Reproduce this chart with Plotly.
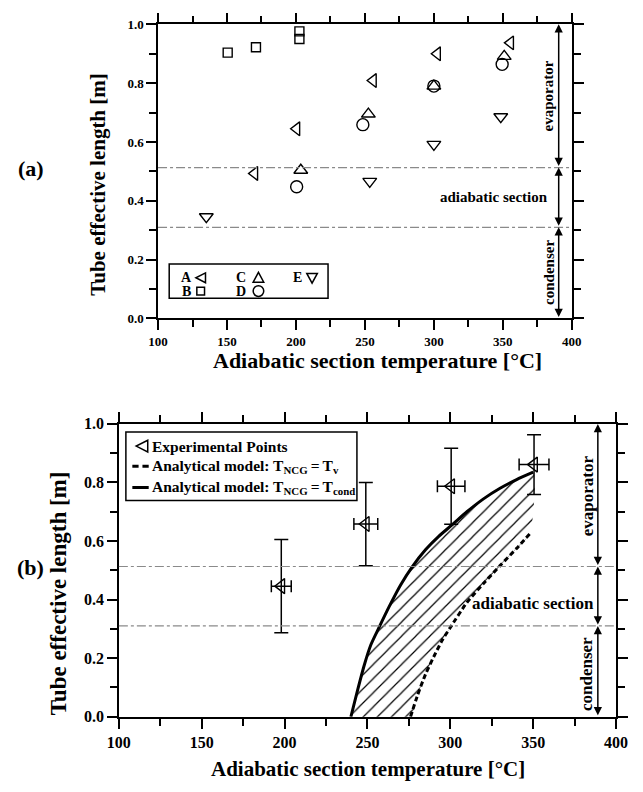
import plotly.graph_objects as go

W, H = 643, 792

# ---------------- data: panel (a) ----------------
A_x = [170, 200.5, 256, 302.5, 355.5]
A_y = [0.493, 0.645, 0.809, 0.900, 0.937]
B_x = [150.5, 171, 202.5, 202.5]
B_y = [0.904, 0.922, 0.976, 0.950]
C_x = [203.5, 252.5, 300, 351]
C_y = [0.504, 0.695, 0.790, 0.891]
D_x = [200.5, 248.5, 300, 349.5]
D_y = [0.448, 0.659, 0.790, 0.864]
E_x = [135, 253.5, 300, 348.5]
E_y = [0.346, 0.466, 0.592, 0.686]

# ---------------- data: panel (b) ----------------
exp_x = [198, 249, 300.5, 350.5]
exp_y = [0.446, 0.658, 0.787, 0.861]
exp_xerr = [6, 7.2, 8.3, 9]
exp_yerr = [0.159, 0.142, 0.130, 0.102]

cond_x = [240, 244, 248, 252, 257, 263, 270, 277, 285, 293, 301, 310, 320, 330, 340, 350]
cond_y = [0.0, 0.09, 0.175, 0.245, 0.305, 0.375, 0.45, 0.512, 0.57, 0.616, 0.655, 0.70, 0.744, 0.78, 0.81, 0.835]
tv_x = [276, 280, 285, 290, 295, 300, 310, 320, 330, 340, 348]
tv_y = [0.0, 0.07, 0.145, 0.205, 0.26, 0.305, 0.39, 0.455, 0.516, 0.575, 0.625]

section_bounds = [0.513, 0.31]
x_ticks = [100, 150, 200, 250, 300, 350, 400]
y_ticks = [0.0, 0.2, 0.4, 0.6, 0.8, 1.0]

legend_a = ["A", "B", "C", "D", "E"]
legend_b = ["Experimental Points",
            "Analytical model: T<sub>NCG</sub>\u2009=\u2009T<sub>v</sub>",
            "Analytical model: T<sub>NCG</sub>\u2009=\u2009T<sub>cond</sub>"]

FONT = "Liberation Serif"
BLACK = "black"


def px(x):
    return x / W


def py(y):
    return 1 - y / H


fig = go.Figure()


def mk(symbol, size=11):
    return dict(symbol=symbol, size=size, color=BLACK, line=dict(color=BLACK, width=1.4))


for xs, ys, sym, sz in [(A_x, A_y, "triangle-left-open", 12), (B_x, B_y, "square-open", 9),
                        (C_x, C_y, "triangle-up-open", 12), (D_x, D_y, "circle-open", 12),
                        (E_x, E_y, "triangle-down-open", 12)]:
    fig.add_trace(go.Scatter(x=xs, y=ys, mode="markers", marker=mk(sym, sz),
                             showlegend=False, xaxis="x", yaxis="y"))

# hatched region between the two model curves
fig.add_trace(go.Scatter(
    x=cond_x + tv_x[::-1] + [cond_x[0]],
    y=cond_y + tv_y[::-1] + [cond_y[0]],
    mode="lines", line=dict(width=0, color=BLACK, shape="spline", smoothing=0.6), fill="toself",
    fillcolor="rgba(255,255,255,0)",
    fillpattern=dict(shape="/", size=10, solidity=0.12, fgcolor=BLACK, fgopacity=1,
                     bgcolor="rgba(255,255,255,0)"),
    showlegend=False, hoverinfo="skip", xaxis="x2", yaxis="y2"))

fig.add_trace(go.Scatter(
    x=exp_x, y=exp_y, mode="markers", name=legend_b[0],
    marker=mk("triangle-left-open", 13),
    error_y=dict(type="data", array=exp_yerr, color=BLACK, thickness=1.5, width=7),
    error_x=dict(type="data", array=exp_xerr, color=BLACK, thickness=1.5, width=6),
    showlegend=False, xaxis="x2", yaxis="y2"))
fig.add_trace(go.Scatter(
    x=tv_x, y=tv_y, mode="lines", name=legend_b[1],
    line=dict(color=BLACK, width=3, dash="5px,3px", shape="spline", smoothing=0.6),
    showlegend=False, xaxis="x2", yaxis="y2"))
fig.add_trace(go.Scatter(
    x=cond_x, y=cond_y, mode="lines", name=legend_b[2],
    line=dict(color=BLACK, width=3, shape="spline", smoothing=0.6),
    showlegend=False, xaxis="x2", yaxis="y2"))


def tf(size):
    return dict(family=FONT, size=size, color=BLACK, weight="bold")


def xax(domain, anchor, fs):
    return dict(domain=domain, anchor=anchor, range=[100, 400], tickvals=x_ticks,
                ticks="outside", ticklen=10, tickwidth=1.5, tickcolor=BLACK,
                minor=dict(dtick=25, tick0=100, ticks="outside", ticklen=7, tickwidth=1.5, tickcolor=BLACK),
                showline=True, linewidth=1.5, linecolor=BLACK, mirror="allticks",
                showgrid=False, zeroline=False, tickfont=tf(fs))


def yax(domain, anchor, fs):
    return dict(domain=domain, anchor=anchor, range=[0, 1], tickvals=y_ticks, tickformat=".1f",
                ticks="outside", ticklen=10, tickwidth=1.5, tickcolor=BLACK,
                minor=dict(dtick=0.1, tick0=0, ticks="outside", ticklen=7, tickwidth=1.5, tickcolor=BLACK),
                showline=True, linewidth=1.5, linecolor=BLACK, mirror="allticks",
                showgrid=False, zeroline=False, tickfont=tf(fs))


shapes = []
for xr, yr in [("x", "y"), ("x2", "y2")]:
    for b in section_bounds:
        shapes.append(dict(type="line", xref=xr + " domain", yref=yr, x0=0, x1=1, y0=b, y1=b,
                           line=dict(color="#8a8a8a", width=1.2, dash="dashdot"), layer="above"))

LW = dict(color=BLACK, width=1.5)


def pth(points):
    s = "M " + " L ".join(f"{px(a):.5f} {py(b):.5f}" for a, b in points) + " Z"
    return dict(type="path", xref="paper", yref="paper", path=s, line=LW)


# legend box for panel (a) with its symbols
shapes.append(dict(type="rect", xref="paper", yref="paper", x0=px(163.3), x1=px(328.3),
                   y0=py(296.7), y1=py(261.7), line=LW))
r = 5
cx, cy = 196, 275.7
shapes.append(pth([(cx + r, cy - r), (cx + r, cy + r), (cx - r, cy)]))          # A
cx, cy = 196, 289.3
shapes.append(dict(type="rect", xref="paper", yref="paper", x0=px(cx - 4), x1=px(cx + 4),
                   y0=py(cy + 4), y1=py(cy - 4), line=LW))                         # B
cx, cy = 256, 275.7
shapes.append(pth([(cx - 5.5, cy + 4.5), (cx + 5.5, cy + 4.5), (cx, cy - 5.5)]))  # C
cx, cy = 256, 289.3
shapes.append(dict(type="circle", xref="paper", yref="paper", x0=px(cx - 5.5), x1=px(cx + 5.5),
                   y0=py(cy + 5.5), y1=py(cy - 5.5), line=LW))                     # D
cx, cy = 311.7, 275.7
shapes.append(pth([(cx - 5.5, cy - 4.5), (cx + 5.5, cy - 4.5), (cx, cy + 5.5)]))  # E

# legend box for panel (b) with its samples
shapes.append(dict(type="rect", xref="paper", yref="paper", x0=px(118.3), x1=px(358.3),
                   y0=py(503.3), y1=py(433.3), line=LW))
cx, cy = 135, 447.7
shapes.append(pth([(cx + 6, cy - 6), (cx + 6, cy + 6), (cx - 6, cy)]))
for x0, x1 in [(125, 131.5), (135.5, 142)]:
    shapes.append(dict(type="line", xref="paper", yref="paper", x0=px(x0), x1=px(x1),
                       y0=py(468.3), y1=py(468.3), line=dict(color=BLACK, width=3)))
shapes.append(dict(type="line", xref="paper", yref="paper", x0=px(125), x1=px(142),
                   y0=py(490), y1=py(490), line=dict(color=BLACK, width=3)))

ann = []


def text(x, y, t, size=15, angle=0, xanchor="center", xref="paper", yref="paper"):
    ann.append(dict(x=x, y=y, xref=xref, yref=yref, text=t, showarrow=False,
                    textangle=angle, xanchor=xanchor, yanchor="middle",
                    font=tf(size), borderpad=0))


# axis titles and panel labels
text(px(380), py(360), "Adiabatic section temperature [°C]", 22)
text(px(370), py(778), "Adiabatic section temperature [°C]", 21)
text(px(89), py(180), "Tube effective length [m]", 21, -90)
text(px(48), py(598), "Tube effective length [m]", 23, -90)
text(px(20), py(164), "(a)", 22)
text(px(19), py(572), "(b)", 22)

# legend (a) labels
for t, x, y in zip(legend_a, [181.7, 181.7, 238.3, 238.3, 296.7],
                   [275.7, 289.3, 275.7, 289.3, 275.7]):
    text(px(x), py(y), t, 14)

# legend (b) labels
for t, y in zip(legend_b, [447.7, 468.3, 490]):
    text(px(144), py(y), t, 15.5, 0, "left")

# section arrows and labels
for xr, yr, xa in [("x", "y", 390.5), ("x2", "y2", 389)]:
    lims = [1.0, section_bounds[0], section_bounds[1], 0.0]
    for i in range(3):
        ann.append(dict(x=xa, y=lims[i], ax=xa, ay=lims[i + 1], xref=xr, yref=yr,
                        axref=xr, ayref=yr, text="", showarrow=True, arrowside="end+start",
                        arrowhead=2, arrowsize=1.1, arrowwidth=1.5, arrowcolor=BLACK,
                        standoff=0, startstandoff=0))
text(383, 0.756, "evaporator", 15, -90, xref="x", yref="y")
text(383.5, 0.413, "adiabatic section", 15, 0, "right", xref="x", yref="y")
text(383, 0.156, "condenser", 15, -90, xref="x", yref="y")
text(382.5, 0.753, "evaporator", 17, -90, xref="x2", yref="y2")
text(387, 0.388, "adiabatic section", 17, 0, "right", xref="x2", yref="y2")
text(382.5, 0.146, "condenser", 17, -90, xref="x2", yref="y2")

fig.update_layout(
    width=W, height=H, margin=dict(l=0, r=0, t=0, b=0),
    paper_bgcolor="white", plot_bgcolor="white",
    xaxis=xax([px(151.7), px(581.5)], "y", 13),
    yaxis=yax([py(317.3), py(16.7)], "x", 13),
    xaxis2=xax([px(111), px(627.5)], "y2", 16),
    yaxis2=yax([py(724.3), py(425)], "x2", 16),
    shapes=shapes, annotations=ann,
    showlegend=False,
)

fig.write_html("out.html")
